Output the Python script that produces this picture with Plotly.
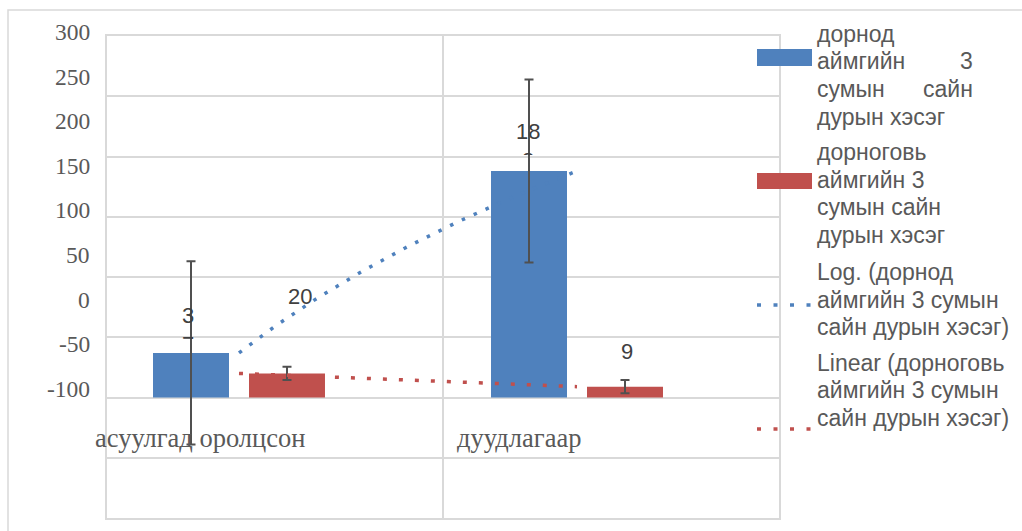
import numpy as np
import plotly.graph_objects as go

# ---------------- data ----------------
categories = ["асуулгад оролцсон", "дуудлагаар"]
series_names = ["дорнод аймгийн 3 сумын сайн дурын хэсэг",
                "дорноговь аймгийн 3 сумын сайн дурын хэсэг"]
blue_values = [37, 188]
red_values = [20, 9]
blue_err = [76, 76]
red_err = [5.5, 5.5]
y_tick_labels = [300, 250, 200, 150, 100, 50, 0, -50, -100]

BLUE = "#4F81BD"
RED = "#C0504D"
GRID = "#D9D9D9"
TXT = "#595959"
LBL = "#404040"

# ---------------- geometry helpers ----------------
W, H = 1022, 531
L, R, T, B = 107, 243, 36, 13
PW, PH = W - L - R, H - T - B

def px_x(px):
    return (px - L) / PW

def px_y(py):
    return 1 - (py - T) / PH

UNIT = 338.0      # px per category
X0PX = 239.0      # px of category 1 centre

def dx(px):
    return 1 + (px - X0PX) / UNIT

Y_PER = (397 - 36) / 300.0

def dy(py):
    return (397 - py) / Y_PER

xcat = [1, 2]

fig = go.Figure()
fig.add_trace(go.Bar(x=xcat, y=blue_values, name=series_names[0],
                     marker=dict(color=BLUE, line=dict(width=0)),
                     error_y=dict(type="data", array=blue_err, color="#505050",
                                  thickness=2, width=4.5),
                     showlegend=False))
fig.add_trace(go.Bar(x=xcat, y=red_values, name=series_names[1],
                     marker=dict(color=RED, line=dict(width=0)),
                     error_y=dict(type="data", array=red_err, color="#505050",
                                  thickness=2, width=4.5),
                     showlegend=False))

# trendlines fitted on the data
xf = np.linspace(1, 2, 60)
a_log, b_log = np.polyfit(np.log(xcat), blue_values, 1)
a_lin, b_lin = np.polyfit(xcat, red_values, 1)
fig.add_trace(go.Scatter(x=xf, y=a_log * np.log(xf) + b_log, mode="lines",
                         name="Log. (" + series_names[0] + ")",
                         line=dict(color=BLUE, width=3.5, dash="3.5px,9.5px"),
                         showlegend=False, hoverinfo="skip"))
fig.add_trace(go.Scatter(x=xf, y=a_lin * xf + b_lin, mode="lines",
                         name="Linear (" + series_names[1] + ")",
                         line=dict(color=RED, width=3.5, dash="4px,12px"),
                         showlegend=False, hoverinfo="skip"))

annotations = []
shapes = []

# y tick labels (drawn as in the reference, compressed)
for i, v in enumerate(y_tick_labels):
    annotations.append(dict(x=px_x(92), y=px_y(32 + i * 44.6), xref="paper", yref="paper",
                            text=str(v), showarrow=False, xanchor="right", yanchor="middle",
                            font=dict(family="Liberation Serif", size=23.5, color=TXT)))

# category labels
cat_px = [200, 519]
for c, p in zip(categories, cat_px):
    annotations.append(dict(x=dx(p), y=dy(437), xref="x", yref="y", text=c, showarrow=False,
                            xanchor="center", yanchor="middle",
                            font=dict(family="Liberation Serif", size=26.5, color=TXT)))

# data labels
def wrap(v):
    s = str(v)
    return s[:-1] + "<br>" + s[-1] if len(s) > 1 else s

blue_lbl_px = [(188, 301), (528, 117)]
for v, (lx, ly) in zip(blue_values, blue_lbl_px):
    annotations.append(dict(x=dx(lx), y=dy(ly), xref="x", yref="y", text=wrap(v),
                            showarrow=False, xanchor="center", yanchor="top",
                            height=36, valign="top",
                            font=dict(family="Liberation Sans", size=22, color=LBL)))
red_lbl_px = [(300, 296), (627, 351)]
for v, (lx, ly) in zip(red_values, red_lbl_px):
    annotations.append(dict(x=dx(lx), y=dy(ly), xref="x", yref="y", text=str(v),
                            showarrow=False, xanchor="center", yanchor="middle",
                            font=dict(family="Liberation Sans", size=22, color=LBL)))

# custom legend, one annotation per line (left part, optional right-justified part, y centre)
LF = dict(family="Liberation Sans", size=23, color=TXT)
legend_lines = [
    ("дорнод", None, 34),
    ("аймгийн", "3", 61),
    ("сумын", "сайн", 89),
    ("дурын хэсэг", None, 117),
    ("дорноговь", None, 152),
    ("аймгийн 3", None, 179.5),
    ("сумын сайн", None, 207),
    ("дурын хэсэг", None, 234.5),
    ("Log. (дорнод", None, 272),
    ("аймгийн 3 сумын", None, 299.5),
    ("сайн дурын хэсэг)", None, 327),
    ("Linear (дорноговь", None, 363),
    ("аймгийн 3 сумын", None, 390),
    ("сайн дурын хэсэг)", None, 417.5),
]
for left, right, cy in legend_lines:
    annotations.append(dict(x=px_x(815), y=px_y(cy), xref="paper", yref="paper", text=left,
                            showarrow=False, xanchor="left", yanchor="middle", font=LF))
    if right:
        annotations.append(dict(x=px_x(975), y=px_y(cy), xref="paper", yref="paper", text=right,
                                showarrow=False, xanchor="right", yanchor="middle", font=LF))

shapes.append(dict(type="rect", xref="paper", yref="paper",
                   x0=px_x(757), x1=px_x(812), y0=px_y(49), y1=px_y(66),
                   fillcolor=BLUE, line=dict(width=0)))
shapes.append(dict(type="rect", xref="paper", yref="paper",
                   x0=px_x(757), x1=px_x(812), y0=px_y(173), y1=px_y(189),
                   fillcolor=RED, line=dict(width=0)))
shapes.append(dict(type="line", xref="paper", yref="paper",
                   x0=px_x(757), x1=px_x(812), y0=px_y(305), y1=px_y(305),
                   line=dict(color=BLUE, width=3.5, dash="4px,12.5px")))
shapes.append(dict(type="line", xref="paper", yref="paper",
                   x0=px_x(757), x1=px_x(812), y0=px_y(429), y1=px_y(429),
                   line=dict(color=RED, width=3.5, dash="4px,12.5px")))
# outer chart border
shapes.append(dict(type="rect", xref="paper", yref="paper",
                   x0=px_x(8), x1=px_x(1040), y0=px_y(10), y1=px_y(545),
                   line=dict(color=GRID, width=1.5), fillcolor="rgba(0,0,0,0)", layer="below"))

fig.update_layout(
    width=W, height=H,
    margin=dict(l=L, r=R, t=T, b=B),
    paper_bgcolor="white", plot_bgcolor="white",
    barmode="group", bargap=0.432, bargroupgap=0.2083,
    showlegend=False,
    xaxis=dict(range=[dx(107), dx(779)], tickvals=[dx(443)], showticklabels=False,
               showgrid=True, gridcolor=GRID, gridwidth=1.5, zeroline=False,
               showline=True, mirror=True, linecolor=GRID, linewidth=1.5, ticks=""),
    yaxis=dict(range=[-100, 300], dtick=50, showticklabels=False, showgrid=True,
               gridcolor=GRID, gridwidth=1.5, zeroline=False,
               showline=True, mirror=True, linecolor=GRID, linewidth=1.5, ticks=""),
    annotations=annotations,
    shapes=shapes,
)

fig.write_html("out.html", config={"displayModeBar": False},
               post_script="document.body.style.margin='0px';document.body.style.overflow='hidden';")
